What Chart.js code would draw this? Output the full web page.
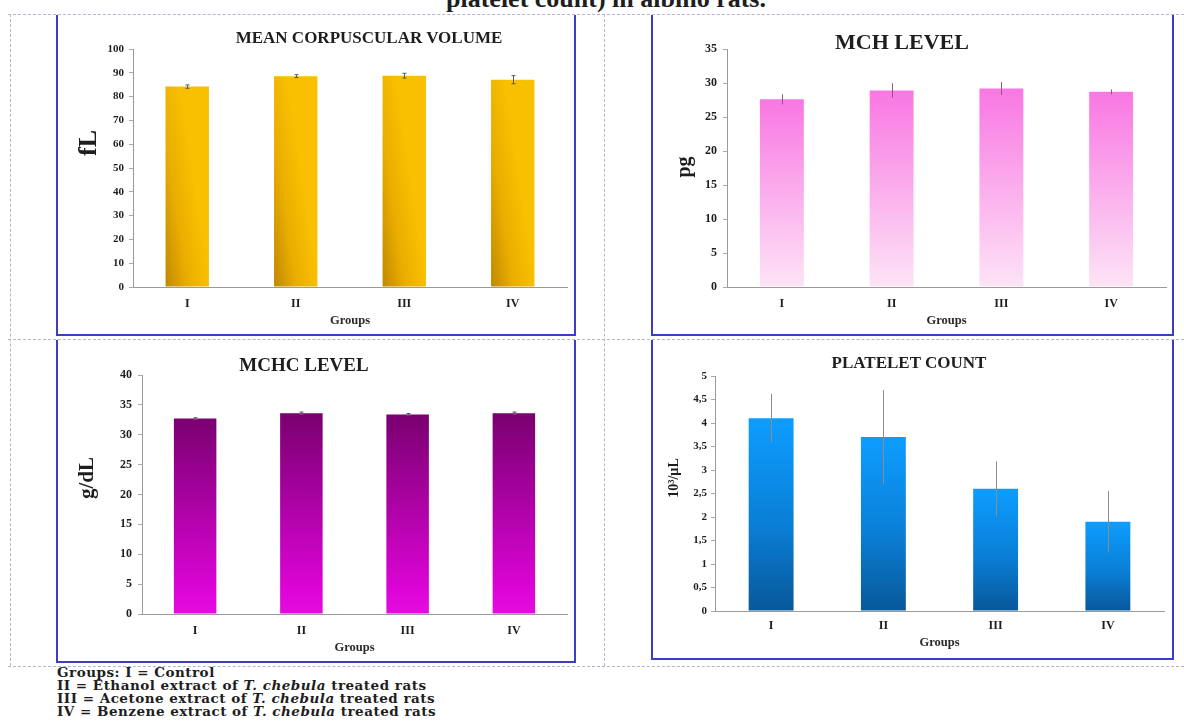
<!DOCTYPE html>
<html lang="en">
<head>
<meta charset="UTF-8">
<title>MCV, MCH, MCHC and platelet count</title>
<script src="https://cdn.jsdelivr.net/npm/chart.js@4.4.0/dist/chart.umd.min.js"></script>
<style>
  body { margin: 0; background: #fff; width: 1184px; height: 724px; position: relative; overflow: hidden;
         font-family: "Liberation Serif", "Times New Roman", serif; color: #1e1e1e; }
  .dash { position: absolute; border: 0 dashed #b3b6c9; }
  .h { border-top-width: 1px; height: 0; }
  .v { border-left-width: 1px; width: 0; }
  .panel { position: absolute; border: 2px solid #3c3cc4; border-top: none; }
  .panel canvas { display: block; }
  .ttl { position: absolute; font-weight: bold; white-space: nowrap; transform: translate(-50%, -50%); }
  .ytl { position: absolute; font-weight: bold; white-space: nowrap; transform: translate(-50%, -50%) rotate(-90deg); }
  #head { position: absolute; left: 0; width: 1212px; top: -14px; text-align: center; font-size: 26px; line-height: 26px; font-weight: bold; }
  #notes { position: absolute; left: 57px; top: 666px; font-family: "DejaVu Serif", serif; font-weight: bold;
           font-size: 13.5px; letter-spacing: 0.5px; line-height: 13px; white-space: nowrap; }
</style>
</head>
<body>
<div id="head">platelet count) in albino rats.</div>

<div class="dash h" style="left:8px;top:14px;width:1176px"></div>
<div class="dash h" style="left:8px;top:339px;width:1176px"></div>
<div class="dash h" style="left:8px;top:666px;width:1176px"></div>
<div class="dash v" style="left:10px;top:14px;height:652px"></div>
<div class="dash v" style="left:604px;top:14px;height:652px"></div>

<div class="panel" style="left:56px;top:15px"><canvas id="mcvChart" width="516" height="319"></canvas></div>
<div class="panel" style="left:651px;top:15px"><canvas id="mchChart" width="519" height="319"></canvas></div>
<div class="panel" style="left:56px;top:340px"><canvas id="mchcChart" width="516" height="321"></canvas></div>
<div class="panel" style="left:651px;top:340px"><canvas id="pltChart" width="519" height="318"></canvas></div>

<div class="ttl" style="left:369px;top:38px;font-size:17px">MEAN CORPUSCULAR VOLUME</div>
<div class="ttl" style="left:902px;top:42px;font-size:22px">MCH LEVEL</div>
<div class="ttl" style="left:304px;top:365px;font-size:19px">MCHC LEVEL</div>
<div class="ttl" style="left:909px;top:363px;font-size:17px">PLATELET COUNT</div>

<div class="ytl" style="left:88px;top:143px;font-size:26px">fL</div>
<div class="ytl" style="left:683px;top:167px;font-size:20px">pg</div>
<div class="ytl" style="left:86px;top:478px;font-size:21px">g/dL</div>
<div class="ytl" style="left:674px;top:478px;font-size:14px">10³/µL</div>

<div id="notes">
  Groups: I = Control<br>
  II = Ethanol extract of <i>T. chebula</i> treated rats<br>
  III = Acetone extract of <i>T. chebula</i> treated rats<br>
  IV = Benzene extract of <i>T. chebula</i> treated rats
</div>

<script>
  const groups = ['I', 'II', 'III', 'IV'];

  const mcv = [84.2, 88.6, 88.8, 87.1];
  const mcvErr = [0.7, 0.6, 1.0, 1.7];
  const mcvTicks = ['0', '10', '20', '30', '40', '50', '60', '70', '80', '90', '100'];

  const mch = [27.6, 28.9, 29.2, 28.7];
  const mchErr = [0.75, 1.05, 0.95, 0.35];
  const mchTicks = ['0', '5', '10', '15', '20', '25', '30', '35'];

  const mchc = [32.7, 33.6, 33.4, 33.6];
  const mchcErr = [0.15, 0.2, 0.15, 0.2];
  const mchcTicks = ['0', '5', '10', '15', '20', '25', '30', '35', '40'];

  const platelet = [4.1, 3.7, 2.6, 1.9];
  const plateletErr = [0.52, 1.0, 0.58, 0.65];
  const plateletTicks = ['0', '0,5', '1', '1,5', '2', '2,5', '3', '3,5', '4', '4,5', '5'];

  const serif = '"Liberation Serif", "Times New Roman", serif';

  // gradient per bar, built from the chart's own scales
  function barFill(stops, sideways) {
    return (c) => {
      const chart = c.chart;
      const x = chart.scales.x, y = chart.scales.y;
      if (c.dataIndex === undefined || !x || !y || !chart.chartArea) return stops[stops.length - 1][1];
      const v = chart.data.datasets[0].data[c.dataIndex];
      const y0 = y.getPixelForValue(0), y1 = y.getPixelForValue(v);
      let g;
      if (sideways) {
        const cx = x.getPixelForValue(c.dataIndex);
        const half = (x.right - x.left) / groups.length * 0.2;
        g = chart.ctx.createLinearGradient(cx - half, y0, cx + half, y0 - 0.3 * half);
      } else {
        g = chart.ctx.createLinearGradient(0, y0, 0, y1);
      }
      stops.forEach(s => g.addColorStop(s[0], s[1]));
      return g;
    };
  }

  const errorBars = {
    id: 'errorBars',
    afterDatasetsDraw(chart, args, opts) {
      const ds = chart.data.datasets[0];
      const meta = chart.getDatasetMeta(0);
      const y = chart.scales.y;
      const ctx = chart.ctx;
      ctx.save();
      ctx.strokeStyle = opts.color;
      ctx.lineWidth = 1;
      meta.data.forEach((bar, i) => {
        const top = y.getPixelForValue(ds.data[i] + ds.errors[i]);
        const bot = y.getPixelForValue(ds.data[i] - ds.errors[i]);
        const px = Math.round(bar.x) + 0.5;
        ctx.beginPath();
        ctx.moveTo(px, top);
        ctx.lineTo(px, bot);
        if (opts.cap) {
          ctx.moveTo(px - opts.cap, top); ctx.lineTo(px + opts.cap, top);
          ctx.moveTo(px - opts.cap, bot); ctx.lineTo(px + opts.cap, bot);
        }
        ctx.stroke();
      });
      ctx.restore();
    }
  };

  function makeChart(id, values, errors, ticks, max, step, fill, p) {
    return new Chart(id, {
      type: 'bar',
      data: {
        labels: groups,
        datasets: [{
          data: values,
          errors: errors,
          backgroundColor: fill,
          borderWidth: 0,
          barPercentage: 0.4,
          categoryPercentage: 1
        }]
      },
      plugins: [errorBars],
      options: {
        responsive: false,
        animation: false,
        events: [],
        layout: { padding: { left: 0, top: p.top, right: p.right, bottom: 0 } },
        plugins: {
          legend: { display: false },
          tooltip: { enabled: false },
          errorBars: { color: p.errColor, cap: p.cap }
        },
        scales: {
          x: {
            grid: { display: false, drawTicks: false },
            border: { display: true, color: '#9a9a9a' },
            ticks: { color: '#1e1e1e', padding: p.xPad, font: { family: serif, size: 12, weight: 'bold' } },
            title: {
              display: true, text: 'Groups', color: '#2a2a2a',
              font: { family: serif, size: 12.5, weight: 'bold' },
              padding: { top: 0, bottom: p.groupsPad }
            },
            afterFit: s => { s.height = p.xHeight; }
          },
          y: {
            min: 0, max: max,
            grid: { drawOnChartArea: false, drawTicks: true, tickLength: 4, color: '#aaaaaa' },
            border: { display: true, color: '#9a9a9a' },
            ticks: {
              stepSize: step, padding: p.yPad, color: '#1e1e1e',
              font: { family: serif, size: p.tickSize, weight: 'bold' },
              callback: (v, i) => ticks[i]
            },
            afterFit: s => { s.width = p.yWidth; }
          }
        }
      }
    });
  }

  makeChart('mcvChart', mcv, mcvErr, mcvTicks, 100, 10,
    barFill([[0, '#c28800'], [0.5, '#e9ad00'], [1, '#f8c000']], true),
    { top: 34, right: 7, xHeight: 47, yWidth: 75, yPad: 5, xPad: 10, groupsPad: 6, tickSize: 11, errColor: '#5a5a5a', cap: 2 });

  makeChart('mchChart', mch, mchErr, mchTicks, 35, 5,
    barFill([[0, '#fde4f6'], [1, '#f977e3']], false),
    { top: 34, right: 6, xHeight: 47, yWidth: 74, yPad: 6, xPad: 10, groupsPad: 6, tickSize: 12, errColor: '#8a5a80', cap: 0 });

  makeChart('mchcChart', mchc, mchcErr, mchcTicks, 40, 5,
    barFill([[0, '#e60ce0'], [0.12, '#dc04d6'], [1, '#7a0070']], false),
    { top: 35, right: 7, xHeight: 47, yWidth: 84, yPad: 6, xPad: 10, groupsPad: 6, tickSize: 12, errColor: '#6a4a6a', cap: 2 });

  makeChart('pltChart', platelet, plateletErr, plateletTicks, 5, 0.5,
    barFill([[0, '#08589a'], [0.45, '#0a7fd6'], [1, '#0d9dff']], false),
    { top: 36, right: 8, xHeight: 47, yWidth: 62, yPad: 4, xPad: 8, groupsPad: 8, tickSize: 11, errColor: '#8c8c8c', cap: 0 });
</script>
</body>
</html>
